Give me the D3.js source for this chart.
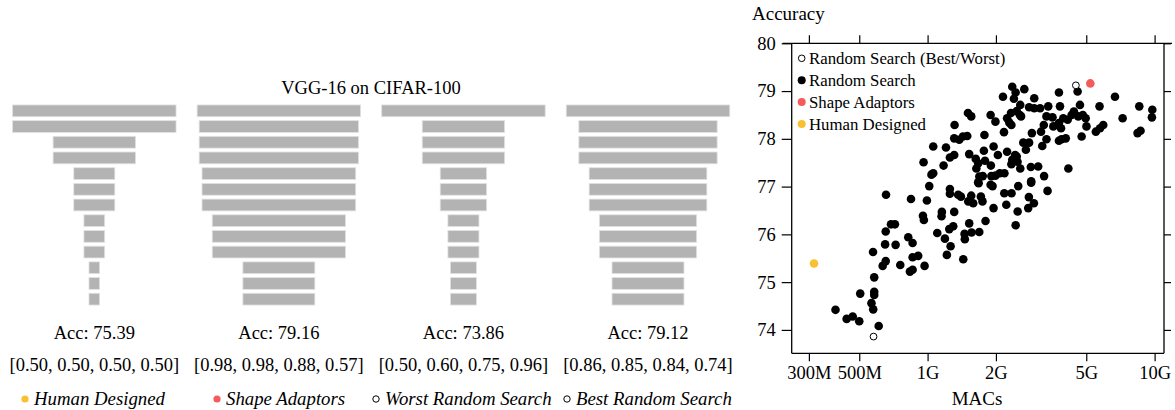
<!DOCTYPE html>
<html>
<head>
<meta charset="utf-8">
<script src="https://cdn.jsdelivr.net/npm/d3@7"></script>
<style>
  body { margin: 0; background: #fff; }
  svg { display: block; font-family: "Liberation Serif", "DejaVu Serif", serif; }
</style>
</head>
<body>
<svg id="chart" width="1175" height="410"></svg>
<script>
// left: VGG-16 layer shapes (relative width of each of the 13 conv layers)
const panelNames = ['human', 'shape', 'worst', 'best'];
const barWidths = [
  [1, 1, 0.504, 0.504, 0.251, 0.251, 0.251, 0.127, 0.127, 0.127, 0.065, 0.065, 0.065],
  [1, 0.975, 0.975, 0.975, 0.94, 0.94, 0.94, 0.815, 0.815, 0.815, 0.44, 0.44, 0.44],
  [1, 0.504, 0.504, 0.504, 0.284, 0.284, 0.284, 0.19, 0.19, 0.19, 0.159, 0.159, 0.159],
  [1, 0.846, 0.846, 0.846, 0.72, 0.72, 0.72, 0.595, 0.595, 0.595, 0.44, 0.44, 0.44]
];
const accValues = ['75.39', '79.16', '73.86', '79.12'];
const scaleFactors = [
  ['0.50', '0.50', '0.50', '0.50'],
  ['0.98', '0.98', '0.88', '0.57'],
  ['0.50', '0.60', '0.75', '0.96'],
  ['0.86', '0.85', '0.84', '0.74']
];
const legendLabels = ['Human Designed', 'Shape Adaptors', 'Worst Random Search', 'Best Random Search'];

// right: MACs (G) vs accuracy
const randomSearch = [
  [0.393, 74.42], [0.44, 74.23], [0.468, 74.28], [0.50, 74.18], [0.505, 74.76], [0.566, 74.56],
  [0.576, 74.43], [0.582, 74.80], [0.582, 74.73], [0.609, 74.08], [0.582, 75.10], [0.575, 75.63],
  [0.634, 75.34], [0.654, 75.44], [0.650, 75.79], [0.654, 76.06], [0.656, 76.83], [0.690, 76.21],
  [0.718, 76.21], [0.723, 75.78], [0.758, 75.36], [0.822, 75.94], [0.845, 76.74], [0.859, 75.82],
  [0.836, 75.22], [0.859, 75.26], [0.859, 75.52], [0.909, 75.55], [0.970, 75.34], [0.954, 76.39],
  [0.963, 76.30], [0.993, 76.71], [1.017, 77.01], [1.103, 76.03], [1.156, 76.47], [1.152, 76.38],
  [1.192, 75.91], [1.216, 75.57], [1.254, 76.95], [1.254, 76.85], [1.246, 76.11], [1.263, 75.75],
  [1.297, 76.17], [1.310, 76.47], [1.364, 76.83], [1.402, 76.79], [1.459, 75.90], [1.455, 76.01],
  [1.436, 75.48], [1.525, 76.23], [1.511, 76.69], [1.557, 76.81], [1.588, 76.65], [1.562, 76.04],
  [1.678, 77.07], [1.689, 76.05], [1.717, 76.79], [1.745, 76.69], [1.800, 76.28], [1.895, 77.04],
  [1.933, 77.01], [1.952, 76.55], [2.177, 76.86], [2.343, 76.86], [2.222, 76.62], [2.443, 76.19],
  [2.493, 76.48], [2.508, 77.01], [2.775, 76.55], [2.794, 76.78], [2.858, 77.08], [2.939, 76.65],
  [3.376, 76.91],
  [4.58, 78.99], [2.36, 79.09], [2.667, 79.04], [2.442, 78.97], [2.148, 78.88], [2.40, 78.84],
  [2.95, 78.85], [3.79, 78.97], [6.69, 78.88], [8.56, 78.68], [9.77, 78.61], [9.73, 78.45],
  [7.23, 78.43], [5.72, 78.68], [4.69, 78.71], [3.83, 78.68], [3.40, 78.68], [3.13, 78.64],
  [2.80, 78.66], [2.95, 78.64], [2.56, 78.71], [2.47, 78.58], [2.33, 78.54], [2.24, 78.43],
  [2.29, 78.34], [2.34, 78.29], [2.55, 78.50], [2.58, 78.47], [1.895, 78.50], [1.99, 78.36],
  [1.506, 78.54], [1.557, 78.47], [1.315, 78.29], [1.31, 78.01], [1.379, 77.98], [1.431, 78.05],
  [1.495, 78.06], [1.78, 78.08], [2.17, 78.14], [2.88, 78.12], [3.16, 78.15], [3.25, 78.29],
  [3.34, 78.47], [3.58, 78.26], [3.55, 78.45], [3.79, 78.33], [3.87, 78.22], [3.96, 78.43],
  [4.14, 78.40], [4.31, 78.50], [4.41, 78.57], [4.61, 78.47], [4.83, 78.50], [4.97, 78.43],
  [5.01, 78.26], [4.77, 78.05], [4.06, 78.01], [3.89, 77.99], [3.79, 77.96], [5.51, 78.15],
  [5.75, 78.22], [5.94, 78.29], [8.41, 78.12], [8.67, 78.17], [4.17, 77.38], [3.07, 77.42],
  [2.85, 77.41], [3.26, 77.22], [2.86, 77.11], [2.56, 77.38], [2.71, 77.77], [2.64, 77.92],
  [2.80, 77.92], [3.20, 77.85], [3.34, 77.99], [2.47, 77.63], [2.43, 77.66], [2.49, 77.52],
  [2.36, 77.56], [2.34, 77.47], [2.24, 77.73], [2.18, 77.28], [1.953, 77.84], [2.04, 77.66],
  [1.77, 77.75], [1.79, 77.54], [1.90, 77.44], [1.672, 77.49], [1.63, 77.58], [1.64, 77.38],
  [1.69, 77.21], [1.67, 77.09], [1.75, 77.22], [1.91, 77.22], [1.99, 77.23], [2.08, 77.28],
  [1.525, 77.68], [1.31, 77.66], [1.254, 77.61], [1.205, 77.82], [1.059, 77.84], [1.176, 77.44],
  [0.960, 77.51], [1.059, 77.28], [1.04, 77.25]
];
const bestWorst = [[4.50, 79.12], [0.578, 73.86]];
const shapeAdaptors = [[5.21, 79.16]];
const humanDesigned = [[0.316, 75.39]];
const xTicks = [0.3, 0.5, 1, 2, 5, 10];
const xTickLabels = ['300M', '500M', '1G', '2G', '5G', '10G'];
const yTicks = [74, 75, 76, 77, 78, 79, 80];
const scatterLegend = ['Random Search (Best/Worst)', 'Random Search', 'Shape Adaptors', 'Human Designed'];

const RED = '#f45c5c';
const YELLOW = '#fbbf32';
const GREY = '#b3b3b3';

const svg = d3.select('#chart');

// ---------- left panels ----------
let panelX = d3.scalePoint().domain(panelNames).range([94.3, 648]);
let layerY = d3.scaleBand().domain(d3.range(13)).range([103, 307]).paddingInner(0.25).paddingOuter(0.125);
let widthScale = d3.scaleLinear().domain([0, 1]).range([0, 163.5]);

svg.append('text')
  .attr('x', 371).attr('y', 94)
  .attr('text-anchor', 'middle')
  .style('font-size', '18.5px')
  .text('VGG-16 on CIFAR-100');

panelNames.forEach((name, p) => {
  let cx = panelX(name);
  let g = svg.append('g');

  g.selectAll('rect')
    .data(barWidths[p])
    .enter().append('rect')
    .attr('x', d => cx - widthScale(d) / 2)
    .attr('y', (d, i) => layerY(i))
    .attr('width', d => widthScale(d))
    .attr('height', layerY.bandwidth())
    .attr('fill', GREY)
    .attr('stroke', '#e2e2e2')
    .attr('stroke-width', 0.8);

  g.append('text')
    .attr('x', cx).attr('y', 339)
    .attr('text-anchor', 'middle')
    .style('font-size', '18.5px')
    .text('Acc: ' + accValues[p]);

  g.append('text')
    .attr('x', cx).attr('y', 371)
    .attr('text-anchor', 'middle')
    .style('font-size', '18.5px')
    .text('[' + scaleFactors[p].join(', ') + ']');
});

// bottom legend
let legendX = [25, 217, 376, 567];
let legendStyle = [
  { fill: YELLOW, stroke: 'none', r: 3.6 },
  { fill: RED, stroke: 'none', r: 3.6 },
  { fill: '#fff', stroke: '#000', r: 3.2 },
  { fill: '#fff', stroke: '#000', r: 3.2 }
];
legendLabels.forEach((label, i) => {
  svg.append('circle')
    .attr('cx', legendX[i]).attr('cy', 399)
    .attr('r', legendStyle[i].r)
    .attr('fill', legendStyle[i].fill)
    .attr('stroke', legendStyle[i].stroke)
    .attr('stroke-width', 1);
  svg.append('text')
    .attr('x', legendX[i] + 9).attr('y', 405)
    .style('font-size', '18.8px')
    .style('font-style', 'italic')
    .text(label);
});

// ---------- right scatter ----------
const plotLeft = 791.7, plotRight = 1164, plotTop = 43.3, plotBottom = 353.3;
let x = d3.scaleLog().domain([0.252, 11.0]).range([plotLeft, plotRight]);
let y = d3.scaleLinear().domain([73.51, 80]).range([plotBottom, plotTop]);

let axisFont = '18.5px';

let gy = svg.append('g')
  .attr('transform', `translate(${plotLeft},0)`)
  .call(d3.axisLeft(y).tickValues(yTicks).tickSize(10).tickPadding(6).tickFormat(d3.format('d')));
gy.select('.domain').remove();
gy.selectAll('text').style('font-size', axisFont);

let gyr = svg.append('g')
  .attr('transform', `translate(${plotRight},0)`)
  .call(d3.axisRight(y).tickValues(yTicks).tickSize(7).tickFormat(''));
gyr.select('.domain').remove();

let gxt = svg.append('g')
  .attr('transform', `translate(0,${plotTop})`)
  .call(d3.axisTop(x).tickValues(xTicks).tickSize(8).tickFormat(''));
gxt.select('.domain').remove();

let gx = svg.append('g')
  .attr('transform', `translate(0,${plotBottom})`)
  .call(d3.axisBottom(x).tickValues(xTicks).tickSize(8).tickPadding(5)
    .tickFormat((d, i) => xTickLabels[i]));
gx.select('.domain').remove();
gx.selectAll('text').style('font-size', axisFont);

svg.selectAll('.tick line').attr('stroke-width', 1.2);
svg.selectAll('.tick text').style('font-family', '"Liberation Serif", serif');

// frame
let frame = svg.append('g').attr('stroke', '#000').attr('stroke-width', 1.3).attr('fill', 'none');
frame.append('line').attr('x1', plotLeft - 9).attr('x2', plotRight + 8).attr('y1', plotTop).attr('y2', plotTop);
frame.append('line').attr('x1', plotLeft).attr('x2', plotRight).attr('y1', plotBottom).attr('y2', plotBottom);
frame.append('line').attr('x1', plotLeft).attr('x2', plotLeft).attr('y1', plotTop).attr('y2', plotBottom);
frame.append('line').attr('x1', plotRight).attr('x2', plotRight).attr('y1', plotTop).attr('y2', plotBottom);

svg.append('text')
  .attr('x', 752).attr('y', 20)
  .style('font-size', '19px')
  .text('Accuracy');

svg.append('text')
  .attr('x', 977).attr('y', 405)
  .attr('text-anchor', 'middle')
  .style('font-size', '19px')
  .text('MACs');

// points
svg.append('g').selectAll('circle')
  .data(randomSearch)
  .enter().append('circle')
  .attr('cx', d => x(d[0]))
  .attr('cy', d => y(d[1]))
  .attr('r', 4.3)
  .attr('fill', '#000');

svg.append('g').selectAll('circle')
  .data(bestWorst)
  .enter().append('circle')
  .attr('cx', d => x(d[0]))
  .attr('cy', d => y(d[1]))
  .attr('r', 3.4)
  .attr('fill', '#fff')
  .attr('stroke', '#000')
  .attr('stroke-width', 1);

svg.append('g').selectAll('circle')
  .data(shapeAdaptors)
  .enter().append('circle')
  .attr('cx', d => x(d[0]))
  .attr('cy', d => y(d[1]))
  .attr('r', 4.3)
  .attr('fill', RED);

svg.append('g').selectAll('circle')
  .data(humanDesigned)
  .enter().append('circle')
  .attr('cx', d => x(d[0]))
  .attr('cy', d => y(d[1]))
  .attr('r', 4.3)
  .attr('fill', YELLOW);

// scatter legend
let legendRows = [
  { fill: '#fff', stroke: '#000', r: 3.3 },
  { fill: '#000', stroke: 'none', r: 4 },
  { fill: RED, stroke: 'none', r: 4 },
  { fill: YELLOW, stroke: 'none', r: 4 }
];
scatterLegend.forEach((label, i) => {
  let cy = 58.3 + i * 21.9;
  svg.append('circle')
    .attr('cx', 801.7).attr('cy', cy)
    .attr('r', legendRows[i].r)
    .attr('fill', legendRows[i].fill)
    .attr('stroke', legendRows[i].stroke)
    .attr('stroke-width', 1);
  svg.append('text')
    .attr('x', 809).attr('y', cy + 5.5)
    .style('font-size', '16.8px')
    .text(label);
});
</script>
</body>
</html>
